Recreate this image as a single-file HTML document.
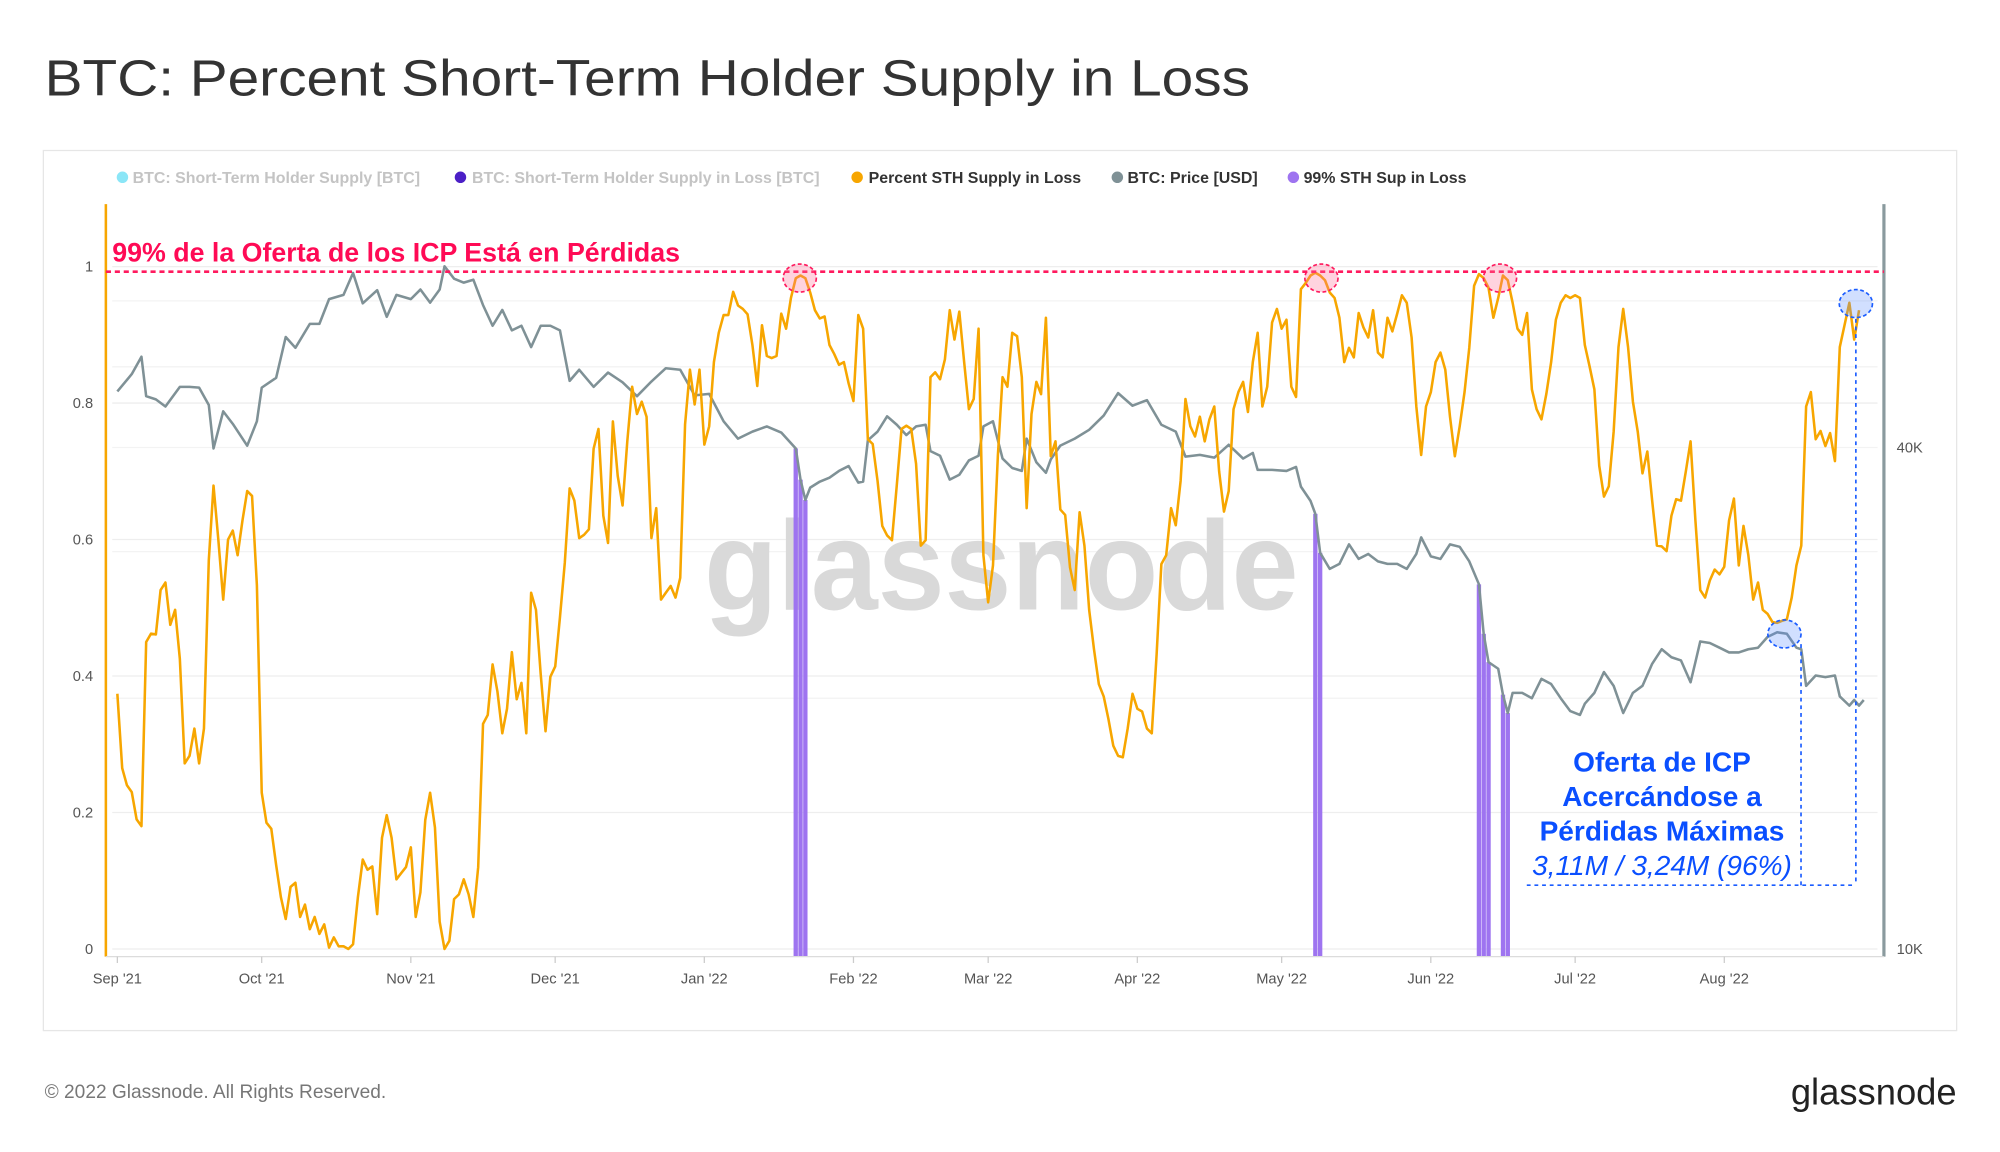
<!DOCTYPE html>
<html><head><meta charset="utf-8"><title>BTC: Percent Short-Term Holder Supply in Loss</title>
<style>
html,body{margin:0;padding:0;background:#fff;}
svg{display:block;font-family:"Liberation Sans",sans-serif;}
</style></head>
<body>
<svg id="chart" width="2000" height="1152" viewBox="0 0 1568 903.17" xmlns="http://www.w3.org/2000/svg">
  <text x="35" y="75" font-size="40" fill="#333" textLength="945" lengthAdjust="spacingAndGlyphs">BTC: Percent Short-Term Holder Supply in Loss</text>
  <rect x="34" y="118" width="1500" height="690" fill="#fff" stroke="#e6e6e6" stroke-width="1"/>
  <g id="grid"></g>
  <text x="785" y="478" font-size="100" font-weight="bold" fill="#d9d9d9" text-anchor="middle" textLength="466" lengthAdjust="spacingAndGlyphs">glassnode</text>
  <g font-size="12.5" font-weight="bold">
    <g><circle cx="96" cy="139" r="4.5" fill="#8be6f7"/><text x="104" y="143.5" fill="#c4c4c4">BTC: Short-Term Holder Supply [BTC]</text></g>
    <g><circle cx="361" cy="139" r="4.5" fill="#4b1fc6"/><text x="370" y="143.5" fill="#c4c4c4">BTC: Short-Term Holder Supply in Loss [BTC]</text></g>
    <g><circle cx="672" cy="139" r="4.5" fill="#f7a600"/><text x="681" y="143.5" fill="#333">Percent STH Supply in Loss</text></g>
    <g><circle cx="876" cy="139" r="4.5" fill="#7f9196"/><text x="884" y="143.5" fill="#333">BTC: Price [USD]</text></g>
    <g><circle cx="1014" cy="139" r="4.5" fill="#9e74f0"/><text x="1022" y="143.5" fill="#333">99% STH Sup in Loss</text></g>
  </g>
  <g id="bars"></g>
  <g id="lines"></g>
  <line x1="83" y1="160" x2="83" y2="750" stroke="#f7a600" stroke-width="2"/>
  <line x1="1477" y1="160" x2="1477" y2="750" stroke="#8a9a9e" stroke-width="2.5"/>
  <line x1="83" y1="750" x2="1477" y2="750" stroke="#dcdcdc" stroke-width="1"/>
  <g id="axes" font-size="11.5" fill="#555"></g>

  <line x1="83" y1="213" x2="1477" y2="213" stroke="#ff1a5e" stroke-width="2" stroke-dasharray="4 3"/>
  <text x="88" y="205" font-size="21" font-weight="bold" fill="#ff0a55">99% de la Oferta de los ICP Está en Pérdidas</text>
  <g fill="rgba(255,110,150,0.3)" stroke="#ff1a5e" stroke-width="1.3" stroke-dasharray="3 2">
    <ellipse cx="627" cy="218" rx="13" ry="11"/>
    <ellipse cx="1036" cy="218" rx="13" ry="11"/>
    <ellipse cx="1176" cy="218" rx="13" ry="11"/>
  </g>
  <g fill="rgba(90,140,255,0.28)" stroke="#1a5cff" stroke-width="1.3" stroke-dasharray="3 2">
    <ellipse cx="1455" cy="238" rx="13" ry="11"/>
    <ellipse cx="1399" cy="497" rx="13" ry="11"/>
  </g>
  <g stroke="#1a5cff" stroke-width="1.3" stroke-dasharray="3 3" fill="none">
    <line x1="1455" y1="250" x2="1455" y2="694"/>
    <line x1="1412" y1="505" x2="1412" y2="694"/>
    <line x1="1197" y1="694" x2="1455" y2="694"/>
  </g>
  <g fill="#0a4fff" text-anchor="middle" font-size="22">
    <text x="1303" y="605" font-weight="bold">Oferta de ICP</text>
    <text x="1303" y="632" font-weight="bold">Acercándose a</text>
    <text x="1303" y="659" font-weight="bold">Pérdidas Máximas</text>
    <text x="1303" y="686" font-style="italic">3,11M / 3,24M (96%)</text>
  </g>
  <text x="35" y="861" font-size="15" fill="#777">© 2022 Glassnode. All Rights Reserved.</text>
  <text x="1534" y="866" font-size="29" fill="#222" text-anchor="end" textLength="130" lengthAdjust="spacingAndGlyphs">glassnode</text>
</svg>
<script>
const startDate = '2021-09-01';
const monthLabels = ["Sep '21","Oct '21","Nov '21","Dec '21","Jan '22","Feb '22","Mar '22","Apr '22","May '22","Jun '22","Jul '22","Aug '22"];
const monthDays = [0,30,61,91,122,153,181,212,242,273,303,334];
const leftTicks = [0,0.2,0.4,0.6,0.8,1];
const leftTickLabels = ["0","0.2","0.4","0.6","0.8","1"];
const rightTicks = [10000,40000];
const rightTickLabels = ["10K","40K"];
const pctLoss = [
0.374,0.265,0.24,0.23,0.19,0.18,0.45,0.462,0.461,0.526,
0.537,0.475,0.497,0.425,0.272,0.283,0.323,0.272,0.323,0.57,
0.679,0.599,0.512,0.6,0.613,0.577,0.628,0.671,0.664,0.533,
0.229,0.185,0.176,0.123,0.076,0.044,0.091,0.097,0.047,0.065,
0.029,0.047,0.022,0.036,0.002,0.017,0.004,0.004,0.0,0.007,
0.076,0.131,0.116,0.121,0.051,0.163,0.196,0.163,0.102,0.111,
0.12,0.149,0.047,0.083,0.189,0.229,0.178,0.04,0.0,0.012,
0.073,0.08,0.102,0.08,0.047,0.12,0.33,0.343,0.417,0.377,
0.316,0.352,0.435,0.366,0.39,0.316,0.522,0.497,0.403,0.319,
0.399,0.414,0.486,0.566,0.675,0.657,0.602,0.607,0.615,0.733,
0.762,0.635,0.595,0.773,0.693,0.65,0.744,0.824,0.784,0.802,
0.78,0.602,0.646,0.512,0.522,0.532,0.515,0.544,0.769,0.849,
0.798,0.849,0.739,0.766,0.86,0.903,0.929,0.929,0.963,0.943,
0.938,0.93,0.885,0.825,0.914,0.869,0.866,0.869,0.931,0.909,
0.954,0.983,0.987,0.983,0.962,0.936,0.924,0.927,0.885,0.872,
0.856,0.86,0.829,0.803,0.929,0.909,0.747,0.74,0.686,0.62,
0.606,0.599,0.68,0.762,0.767,0.762,0.711,0.591,0.599,0.838,
0.845,0.835,0.864,0.936,0.893,0.934,0.86,0.791,0.806,0.909,
0.577,0.508,0.562,0.722,0.838,0.824,0.903,0.898,0.838,0.646,
0.784,0.831,0.813,0.925,0.722,0.744,0.644,0.636,0.559,0.526,
0.64,0.591,0.497,0.439,0.388,0.37,0.337,0.298,0.283,0.281,
0.323,0.374,0.352,0.348,0.323,0.316,0.432,0.564,0.577,0.646,
0.621,0.686,0.806,0.766,0.751,0.78,0.744,0.776,0.795,0.7,
0.641,0.671,0.791,0.816,0.831,0.787,0.86,0.903,0.795,0.824,
0.918,0.938,0.909,0.922,0.824,0.809,0.967,0.976,0.987,0.991,
0.987,0.98,0.962,0.954,0.925,0.86,0.881,0.867,0.932,0.911,
0.896,0.936,0.874,0.867,0.925,0.905,0.931,0.958,0.947,0.896,
0.795,0.724,0.795,0.816,0.86,0.874,0.849,0.78,0.722,0.766,
0.816,0.881,0.972,0.989,0.983,0.969,0.925,0.954,0.987,0.98,
0.947,0.909,0.9,0.932,0.82,0.791,0.776,0.813,0.86,0.922,
0.947,0.958,0.954,0.958,0.954,0.885,0.854,0.82,0.708,0.663,
0.678,0.758,0.882,0.938,0.882,0.802,0.758,0.697,0.729,0.657,
0.591,0.59,0.583,0.635,0.659,0.657,0.7,0.744,0.628,0.526,
0.515,0.54,0.556,0.549,0.56,0.628,0.66,0.562,0.62,0.577,
0.512,0.537,0.497,0.491,0.479,0.478,0.481,0.483,0.515,0.562,
0.591,0.795,0.816,0.747,0.759,0.737,0.756,0.715,0.882,0.914,
0.947,0.893,0.936];
const priceDays = [0,3,5,6,8,10,13,15,17,19,20,22,24,27,29,30,33,35,37,40,42,44,47,49,51,54,56,58,61,63,65,67,68,70,72,74,76,78,80,82,84,86,88,90,92,94,96,
99,102,105,108,111,114,117,120,123,126,129,132,135,138,141,142,143,144,146,148,150,152,154,155,156,158,160,162,164,166,168,169,171,173,175,177,179,180,182,184,186,188,189,191,193,194,
196,199,202,205,208,211,214,217,220,222,225,228,231,234,236,237,240,243,245,246,248,249,250,252,254,256,258,260,262,264,266,268,270,271,273,275,277,279,281,283,284,285,287,288,289,
290,292,294,296,298,300,302,304,305,307,309,311,313,315,317,319,321,323,325,327,328,329,331,333,335,337,339,341,343,345,347,349,350,351,353,355,357,358,360,361,362,363];
const priceValues = [46700,49000,51400,46100,45700,44800,47300,47300,47200,45000,39900,44200,42700,40200,43000,47200,48500,54300,52700,56300,56300,60300,61000,64800,59600,61800,57400,61000,60300,61900,59700,61900,66000,63800,63100,63600,59300,56000,58500,55300,56000,52800,56000,56000,55300,48100,49600,
47300,49200,47900,46100,48000,49800,49600,46200,46400,43000,41000,41800,42400,41700,39900,36600,34600,35800,36400,36800,37500,38000,36300,36400,40800,41800,43600,42600,41400,42400,42600,39600,39100,36600,37100,38600,39100,42400,43000,38800,37800,37500,41000,38400,37300,38700,
40200,41000,42000,43700,46500,44900,45600,42600,41800,39000,39200,38900,40300,38800,39400,37600,37600,37500,37900,35900,34500,33300,29900,28600,29000,30600,29400,29800,29200,29000,29000,28600,29800,31200,29600,29400,30600,30400,29200,27400,23900,22100,21700,20200,19200,
20300,20300,20000,21100,20800,20000,19300,19100,19700,20300,21500,20700,19200,20300,20700,22000,22900,22400,22200,20900,22100,23400,23300,23000,22700,22700,22900,23000,23700,24000,23900,23000,22900,20700,21300,21200,21300,20100,19600,19900,19600,19900];
const lossDays99 = [141,142,143,249,250,283,284,285,288,289];

const NS = 'http://www.w3.org/2000/svg';
const xDay = d => 92 + d * 3.772;
const yPct = v => 744 - v * 535;
const yPrice = p => 744 - Math.log10(p / 10000) * 653;
function priceAt(d){
  for (let i = 0; i < priceDays.length - 1; i++) {
    if (d >= priceDays[i] && d <= priceDays[i+1]) {
      const t = (d - priceDays[i]) / (priceDays[i+1] - priceDays[i]);
      return priceValues[i] + t * (priceValues[i+1] - priceValues[i]);
    }
  }
  return priceValues[priceValues.length - 1];
}
function mk(tag, attrs, parent){
  const e = document.createElementNS(NS, tag);
  for (const k in attrs) e.setAttribute(k, attrs[k]);
  parent.appendChild(e);
  return e;
}
const grid = document.getElementById('grid');
leftTicks.forEach((t) => {
  const g = mk('line', {x1: 88, x2: 1472, y1: yPct(t), y2: yPct(t), stroke: '#eeeeee', 'stroke-width': 1}, grid);
  
  
});
[20000, 30000, 40000, 50000, 60000].forEach((p) => {
  const g = mk('line', {x1: 88, x2: 1472, y1: yPrice(p), y2: yPrice(p), stroke: '#f3f3f3', 'stroke-width': 1}, grid);
  
  
});
const axes = document.getElementById('axes');
leftTicks.forEach((t, i) => {
  const tx = mk('text', {x: 73, y: yPct(t) + 4, 'text-anchor': 'end'}, axes);
  tx.textContent = leftTickLabels[i];
  
  
});
rightTicks.forEach((p, i) => {
  const tx = mk('text', {x: 1487, y: yPrice(p) + 4}, axes);
  tx.textContent = rightTickLabels[i];
  
  
});
monthDays.forEach((d, i) => {
  const tk = mk('line', {x1: xDay(d), x2: xDay(d), y1: 750, y2: 755, stroke: '#ccc'}, axes);
  
  
  const tx = mk('text', {x: xDay(d), y: 771, 'text-anchor': 'middle'}, axes);
  tx.textContent = monthLabels[i];
  
  
});
const bars = document.getElementById('bars');
lossDays99.forEach((d) => {
  const top = yPrice(priceAt(d));
  const b = mk('rect', {x: xDay(d) - 1.7, y: top, width: 3.4, height: 750 - top, fill: '#9e74f0'}, bars);
  
  
});
const lines = document.getElementById('lines');
const pricePts = priceDays.map((d, i) => xDay(d).toFixed(1) + ',' + yPrice(priceValues[i]).toFixed(1)).join(' ');
const pl = mk('polyline', {points: pricePts, fill: 'none', stroke: '#7f9196', 'stroke-width': 2, 'stroke-linejoin': 'round'}, lines);


const pctPts = pctLoss.map((v, i) => xDay(i).toFixed(1) + ',' + yPct(v).toFixed(1)).join(' ');
const ol = mk('polyline', {points: pctPts, fill: 'none', stroke: '#f7a600', 'stroke-width': 2, 'stroke-linejoin': 'round'}, lines);


</script>
</body></html>
